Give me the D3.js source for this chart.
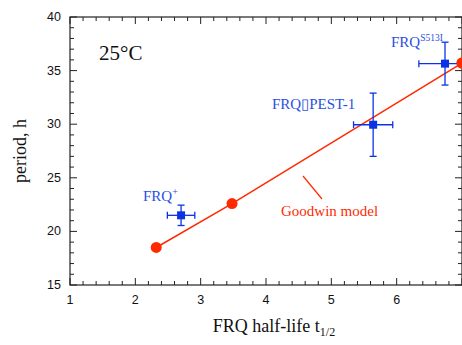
<!DOCTYPE html>
<html lang="en">
  <head>
    <meta charset="UTF-8" />
    <title>FRQ half-life vs period</title>
    <script src="https://d3js.org/d3.v7.min.js"></script>
    <style>
      body { margin: 0; background: #fff; }
      .tick-label { font: 12.5px "Liberation Sans", Arial, sans-serif; fill: #111; }
      .serif { font-family: "Liberation Serif", "Times New Roman", serif; }
    </style>
  </head>
  <body>
    <svg id="chart" width="462" height="345"></svg>
    <script>
      // Goodwin model curve (red)
      const modelHalfLife = [2.32, 3.48, 7.0];
      const modelPeriod = [18.5, 22.6, 35.7];

      // measured strains (blue)
      const strainNames = ["FRQ+", "FRQ\u25AFPEST-1", "FRQS513I"];
      const strainHalfLife = [2.7, 5.64, 6.74];
      const strainPeriod = [21.5, 29.95, 35.65];
      const halfLifeErr = [0.21, 0.3, 0.4];
      const periodErr = [0.95, 2.95, 2.0];

      const xTicks = [1, 2, 3, 4, 5, 6, 7];
      const xTickLabels = [1, 2, 3, 4, 5, 6]; // the "7" falls off the right edge
      const yTicks = [15, 20, 25, 30, 35, 40];

      const margin = { top: 17, right: 0, bottom: 60, left: 70 };
      const red = "#ff2a00", blue = "#0c32e6", blueText = "#2a4fe0";

      const svg = d3.select("#chart");

      const x = d3.scaleLinear().domain([1, 7]).range([margin.left, 462]);
      const y = d3.scaleLinear().domain([15, 40]).range([285, margin.top]);

      // frame
      svg.append("rect")
        .attr("x", x(1)).attr("y", y(40))
        .attr("width", x(7) - x(1)).attr("height", y(15) - y(40))
        .attr("fill", "none").attr("stroke", "#222").attr("stroke-width", 1.2);

      const xMinor = d3.range(1, 7.001, 0.2);
      const yMinor = d3.range(15, 40.001, 1);

      // inward ticks on all four sides
      const axisG = svg.append("g").attr("stroke", "#222").attr("stroke-width", 1);
      xMinor.forEach((v) => {
        const major = xTicks.some((t) => Math.abs(t - v) < 1e-6);
        const len = major ? 7 : 4;
        axisG.append("line").attr("x1", x(v)).attr("x2", x(v)).attr("y1", y(15)).attr("y2", y(15) - len);
        axisG.append("line").attr("x1", x(v)).attr("x2", x(v)).attr("y1", y(40)).attr("y2", y(40) + len);
      });
      yMinor.forEach((v) => {
        const major = yTicks.some((t) => Math.abs(t - v) < 1e-6);
        const len = major ? 7 : 4;
        axisG.append("line").attr("y1", y(v)).attr("y2", y(v)).attr("x1", x(1)).attr("x2", x(1) + len);
        axisG.append("line").attr("y1", y(v)).attr("y2", y(v)).attr("x1", x(7)).attr("x2", x(7) - len);
      });

      svg.selectAll(".xl").data(xTickLabels).join("text")
        .attr("class", "tick-label")
        .attr("x", (d) => x(d)).attr("y", y(15) + 19)
        .attr("text-anchor", "middle").text((d) => d);

      svg.selectAll(".yl").data(yTicks).join("text")
        .attr("class", "tick-label")
        .attr("x", x(1) - 9).attr("y", (d) => y(d) + 4)
        .attr("text-anchor", "end").text((d) => d);

      // axis titles
      const xt = svg.append("text").attr("class", "serif")
        .attr("x", 274).attr("y", 332).attr("text-anchor", "middle")
        .attr("font-size", 18).attr("fill", "#111");
      xt.append("tspan").text("FRQ half-life t");
      xt.append("tspan").attr("font-size", 12).attr("dy", 4).text("1/2");

      svg.append("text").attr("class", "serif")
        .attr("transform", `translate(26,${(y(15) + y(40)) / 2}) rotate(-90)`)
        .attr("text-anchor", "middle").attr("font-size", 18).attr("fill", "#111")
        .text("period, h");

      svg.append("text").attr("class", "serif")
        .attr("x", 99).attr("y", 60).attr("font-size", 21).attr("fill", "#111")
        .text("25\u00B0C");

      // model line + points
      const modelPts = modelHalfLife.map((h, i) => [h, modelPeriod[i]]);
      svg.append("path").datum(modelPts)
        .attr("fill", "none").attr("stroke", red).attr("stroke-width", 1.5)
        .attr("d", d3.line().x((d) => x(d[0])).y((d) => y(d[1])));
      svg.selectAll(".mp").data(modelPts).join("circle")
        .attr("cx", (d) => x(d[0])).attr("cy", (d) => y(d[1])).attr("r", 5.5)
        .attr("fill", red);

      // Goodwin label with leader
      svg.append("line")
        .attr("x1", 303).attr("y1", 176).attr("x2", 322).attr("y2", 199)
        .attr("stroke", red).attr("stroke-width", 1.2);
      svg.append("text").attr("class", "serif")
        .attr("x", 281).attr("y", 216).attr("font-size", 15).attr("fill", red)
        .text("Goodwin model");

      // strains with error bars
      const strains = strainNames.map((n, i) => ({
        name: n, h: strainHalfLife[i], p: strainPeriod[i], eh: halfLifeErr[i], ep: periodErr[i]
      }));
      const cap = 3.5;
      const eb = svg.append("g").attr("stroke", blue).attr("stroke-width", 1.3);
      strains.forEach((d) => {
        eb.append("line").attr("x1", x(d.h - d.eh)).attr("x2", x(d.h + d.eh)).attr("y1", y(d.p)).attr("y2", y(d.p));
        eb.append("line").attr("x1", x(d.h)).attr("x2", x(d.h)).attr("y1", y(d.p - d.ep)).attr("y2", y(d.p + d.ep));
        eb.append("line").attr("x1", x(d.h - d.eh)).attr("x2", x(d.h - d.eh)).attr("y1", y(d.p) - cap).attr("y2", y(d.p) + cap);
        eb.append("line").attr("x1", x(d.h + d.eh)).attr("x2", x(d.h + d.eh)).attr("y1", y(d.p) - cap).attr("y2", y(d.p) + cap);
        eb.append("line").attr("y1", y(d.p - d.ep)).attr("y2", y(d.p - d.ep)).attr("x1", x(d.h) - cap).attr("x2", x(d.h) + cap);
        eb.append("line").attr("y1", y(d.p + d.ep)).attr("y2", y(d.p + d.ep)).attr("x1", x(d.h) - cap).attr("x2", x(d.h) + cap);
      });
      svg.selectAll(".sq").data(strains).join("rect")
        .attr("x", (d) => x(d.h) - 4).attr("y", (d) => y(d.p) - 4)
        .attr("width", 8).attr("height", 8).attr("fill", blue);
      // redraw last model point on top (it covers the S513I bar end)
      svg.append("circle").attr("cx", x(modelPts[2][0])).attr("cy", y(modelPts[2][1])).attr("r", 5.5).attr("fill", red);

      // strain labels
      const lab = svg.append("g").attr("class", "serif").attr("fill", blueText).attr("font-size", 15);
      const l1 = lab.append("text").attr("x", 143).attr("y", 201);
      l1.append("tspan").text("FRQ");
      l1.append("tspan").attr("font-size", 10).attr("dy", -6).text("+");
      lab.append("text").attr("x", 272).attr("y", 109).text(strains[1].name);
      const l3 = lab.append("text").attr("x", 391).attr("y", 47);
      l3.append("tspan").text("FRQ");
      l3.append("tspan").attr("font-size", 9.5).attr("dy", -6).text("S513I");
    </script>
  </body>
</html>
